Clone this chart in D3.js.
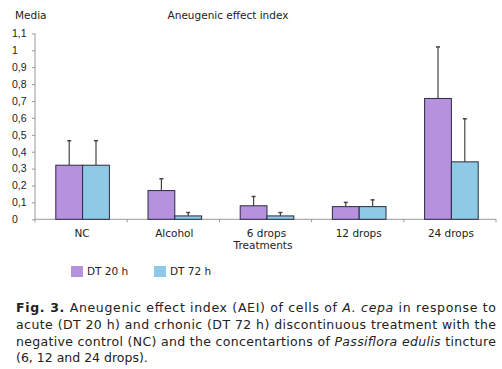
<!DOCTYPE html>
<html>
<head>
<meta charset="utf-8">
<script src="https://cdn.jsdelivr.net/npm/d3@7"></script>
<style>
  body { margin: 0; background: #fff; }
  svg { display: block; font-family: "DejaVu Sans", Verdana, sans-serif; }
</style>
</head>
<body>
<div id="chart"></div>
<script>
// data
var categories = ["NC", "Alcohol", "6 drops", "12 drops", "24 drops"];
var seriesNames = ["DT 20 h", "DT 72 h"];
var dt20 = [0.32, 0.17, 0.08, 0.075, 0.715];
var dt20Err = [0.145, 0.07, 0.055, 0.025, 0.305];
var dt72 = [0.32, 0.02, 0.02, 0.075, 0.34];
var dt72Err = [0.145, 0.02, 0.02, 0.04, 0.255];
var yTicks = [0, 0.1, 0.2, 0.3, 0.4, 0.5, 0.6, 0.7, 0.8, 0.9, 1, 1.1];
var colors = ["#b691dd", "#8ecae6"];

var svgWidth = 502;
var svgHeight = 369;

var svg = d3.select("#chart").append("svg")
  .attr("width", svgWidth)
  .attr("height", svgHeight);

// plot area
var x0 = d3.scaleBand()
  .domain(categories)
  .range([35, 496])
  .padding(0);

var x1 = d3.scaleBand()
  .domain(seriesNames)
  .range([0, x0.bandwidth()])
  .paddingInner(0)
  .paddingOuter(0.72);

var y = d3.scaleLinear()
  .domain([0, 1.1])
  .range([219.3, 33.4]);

var rows = categories.map(function(c, i) {
  return [
    { cat: c, s: seriesNames[0], v: dt20[i], e: dt20Err[i], col: colors[0] },
    { cat: c, s: seriesNames[1], v: dt72[i], e: dt72Err[i], col: colors[1] }
  ];
});

// y axis
var yAxis = d3.axisLeft(y)
  .tickValues(yTicks)
  .tickSize(3)
  .tickFormat(function(d) { return d3.format("")(d).replace(".", ","); });

var yg = svg.append("g")
  .attr("transform", "translate(35,0)")
  .call(yAxis);
yg.select(".domain").attr("stroke", "#999").attr("d", "M0," + y(1.1) + "V" + y(0));
yg.selectAll(".tick line").attr("stroke", "#999");
yg.selectAll(".tick text")
  .attr("x", -23)
  .attr("text-anchor", "start")
  .attr("font-size", "10.5px")
  .attr("fill", "#222");

// x axis line with ticks at category boundaries
var xg = svg.append("g");
xg.append("line")
  .attr("x1", 35).attr("x2", 496)
  .attr("y1", y(0)).attr("y2", y(0))
  .attr("stroke", "#999");
var bounds = categories.map(function(c) { return x0(c); }).concat([x0.range()[1]]);
xg.selectAll(".bt").data(bounds).enter().append("line")
  .attr("x1", function(d) { return d; })
  .attr("x2", function(d) { return d; })
  .attr("y1", y(0))
  .attr("y2", y(0) + 3)
  .attr("stroke", "#999");

xg.selectAll(".cl").data(categories).enter().append("text")
  .attr("x", function(d) { return x0(d) + x0.bandwidth() / 2 + 1; })
  .attr("y", 237)
  .attr("text-anchor", "middle")
  .attr("font-size", "10.5px")
  .attr("fill", "#222")
  .text(function(d) { return d; });

// error bars (upper only)
var groups = svg.selectAll(".grp").data(rows).enter().append("g")
  .attr("transform", function(d, i) { return "translate(" + (x0(categories[i]) + 1.5) + ",0)"; });

groups.selectAll(".err").data(function(d) { return d; }).enter().append("line")
  .attr("x1", function(d) { return x1(d.s) + x1.bandwidth() / 2; })
  .attr("x2", function(d) { return x1(d.s) + x1.bandwidth() / 2; })
  .attr("y1", function(d) { return y(d.v); })
  .attr("y2", function(d) { return y(d.v + d.e); })
  .attr("stroke", "#444")
  .attr("stroke-width", 1.2);

groups.selectAll(".cap").data(function(d) { return d; }).enter().append("line")
  .attr("x1", function(d) { return x1(d.s) + x1.bandwidth() / 2 - 2; })
  .attr("x2", function(d) { return x1(d.s) + x1.bandwidth() / 2 + 2; })
  .attr("y1", function(d) { return y(d.v + d.e); })
  .attr("y2", function(d) { return y(d.v + d.e); })
  .attr("stroke", "#444")
  .attr("stroke-width", 1.5);

// bars
groups.selectAll("rect").data(function(d) { return d; }).enter().append("rect")
  .attr("x", function(d) { return x1(d.s); })
  .attr("y", function(d) { return y(d.v); })
  .attr("width", x1.bandwidth())
  .attr("height", function(d) { return y(0) - y(d.v); })
  .attr("fill", function(d) { return d.col; })
  .attr("stroke", "#2b2b40")
  .attr("stroke-width", 1);

// titles
svg.append("text")
  .attr("x", 15).attr("y", 19)
  .attr("font-size", "10.5px").attr("fill", "#222")
  .text("Media");

svg.append("text")
  .attr("x", 228).attr("y", 19)
  .attr("text-anchor", "middle")
  .attr("font-size", "10.5px").attr("fill", "#222")
  .text("Aneugenic effect index");

svg.append("text")
  .attr("x", 263).attr("y", 249)
  .attr("text-anchor", "middle")
  .attr("font-size", "10.5px").attr("fill", "#222")
  .text("Treatments");

// legend
var legX = [71, 154];
var leg = svg.selectAll(".leg").data(seriesNames).enter().append("g")
  .attr("transform", function(d, i) { return "translate(" + legX[i] + ",266)"; });
leg.append("rect")
  .attr("width", 12).attr("height", 11)
  .attr("fill", function(d, i) { return colors[i]; });
leg.append("text")
  .attr("x", 16).attr("y", 9)
  .attr("font-size", "10.5px").attr("fill", "#222")
  .text(function(d) { return d; });

// caption
var capLines = [
  [["Fig. 3.", "b"], [" Aneugenic effect index (AEI) of cells of ", ""], ["A. cepa", "i"], [" in response to", ""]],
  [["acute (DT 20 h) and crhonic (DT 72 h) discontinuous treatment with the", ""]],
  [["negative control (NC) and the concentartions of ", ""], ["Passiflora edulis", "i"], [" tincture", ""]],
  [["(6, 12 and 24 drops).", ""]]
];
var capY = [312, 329, 345.5, 362];

capLines.forEach(function(line, i) {
  var t = svg.append("text")
    .attr("x", 16).attr("y", capY[i])
    .attr("font-size", "12.5px")
    .attr("fill", "#222")
    .attr("xml:space", "preserve")
    .style("white-space", "pre");
  if (i < 3) {
    t.attr("textLength", 480).attr("lengthAdjust", "spacing");
  }
  line.forEach(function(p) {
    t.append("tspan")
      .attr("font-weight", p[1] == "b" ? "bold" : null)
      .attr("font-style", p[1] == "i" ? "italic" : null)
      .text(p[0]);
  });
});
</script>
</body>
</html>
